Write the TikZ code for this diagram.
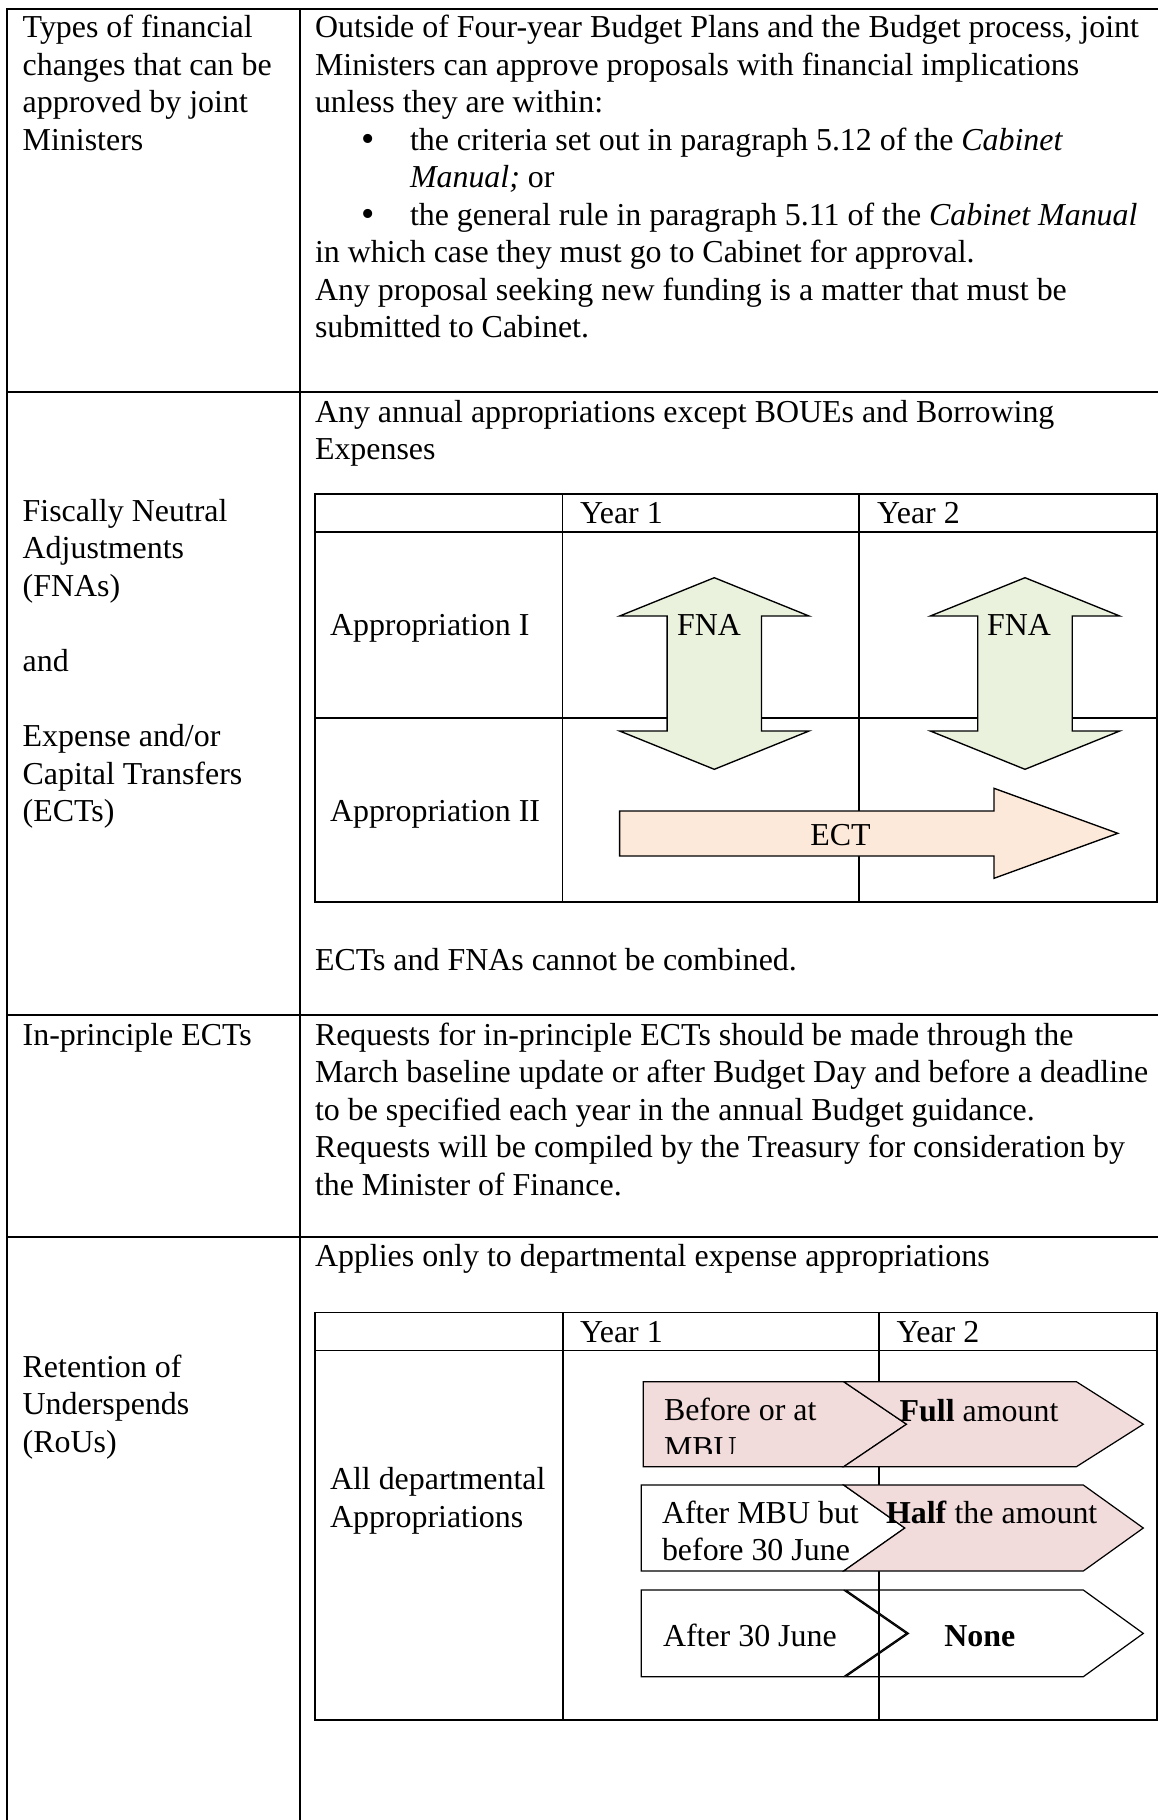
\documentclass[tikz,border=0pt]{standalone}
\usepackage{fontspec}
\setmainfont{Liberation Serif}
\definecolor{fnagreen}{RGB}{234,241,221}
\definecolor{ectpeach}{RGB}{253,233,217}
\definecolor{roupink}{RGB}{242,220,219}
\tikzset{
  tx/.style={anchor=base west, inner sep=0pt, outer sep=0pt, font=\fontsize{11.78}{13.6}\selectfont},
  gridline/.style={line width=0.75pt, black},
  innerline/.style={line width=0.7pt, black},
  arrowshape/.style={line width=0.5pt, black, line join=miter},
  chevshape/.style={line width=0.45pt, black, line join=miter}
}
\newcommand{\tline}[4]{\node[tx] (#1) at (#2,#3) {#4};}
\begin{document}
\begin{tikzpicture}[x=0.369pt, y=-0.369pt]
\useasboundingbox (0,0) rectangle (1158,1820);
\fill[white] (0,0) rectangle (1158,1820);

% outer table
\draw[gridline] (7.3,1830) -- (7.3,9) -- (1170,9);
\draw[gridline] (300,9) -- (300,1830);
\draw[gridline] (7.3,392) -- (1170,392);
\draw[gridline] (7.3,1015) -- (1170,1015);
\draw[gridline] (7.3,1236.5) -- (1170,1236.5);

% inner table 1 (FNA / ECT)
\draw[innerline] (315,494) rectangle (1157,902);
\draw[innerline] (315,532) -- (1157,532);
\draw[innerline] (315,718) -- (1157,718);
\draw[innerline] (562.5,494) -- (562.5,902);
\draw[innerline] (859,494) -- (859,902);

% FNA arrows
\foreach \cx in {714.3, 1025}{
  \draw[arrowshape, fill=fnagreen] (\cx,577.7) -- (\cx+94.7,616) -- (\cx+47.2,616) -- (\cx+47.2,731)
    -- (\cx+94.7,731) -- (\cx,769.3) -- (\cx-94.7,731) -- (\cx-47.2,731) -- (\cx-47.2,616)
    -- (\cx-94.7,616) -- cycle;
}
% ECT arrow
\draw[arrowshape, fill=ectpeach] (619.6,811) -- (994,811) -- (994,788.3) -- (1117.8,833.3)
  -- (994,878.3) -- (994,856) -- (619.6,856) -- cycle;

% inner table 2 (RoU)
\draw[innerline] (315,1312.5) rectangle (1157,1720);
\draw[innerline] (315,1350.5) -- (1157,1350.5);
\draw[innerline] (562.7,1312.5) -- (562.7,1720);
\draw[innerline] (879,1312.5) -- (879,1720);

% chevrons row A
\draw[chevshape, fill=roupink] (643.3,1381.7) -- (843.7,1381.7) -- (906.5,1424.2) -- (843.7,1466.7) -- (643.3,1466.7) -- cycle;
\draw[chevshape, fill=roupink] (843.7,1381.7) -- (1076.4,1381.7) -- (1143.3,1424.2) -- (1076.4,1466.7) -- (843.7,1466.7) -- (906.5,1424.2) -- cycle;
% chevrons row B
\draw[chevshape, fill=white] (641.3,1485) -- (843.7,1485) -- (904.8,1528) -- (843.7,1571) -- (641.3,1571) -- cycle;
\draw[chevshape, fill=roupink] (843.7,1485) -- (1083.3,1485) -- (1143.3,1528) -- (1083.3,1571) -- (843.7,1571) -- (904.8,1528) -- cycle;
% chevrons row C
\draw[chevshape] (641.3,1590) -- (843.7,1590) -- (906.5,1633.4) -- (843.7,1676.7) -- (641.3,1676.7) -- cycle;
\draw[chevshape] (845.7,1590) -- (1083.3,1590) -- (1143.3,1633.4) -- (1083.3,1676.7) -- (845.7,1676.7) -- (908.5,1633.4) -- cycle;

% ---- texts, row 1
\tline{la1}{22.7}{37.5}{Types of financial}
\tline{la2}{22.7}{75}{changes that can be}
\tline{la3}{22.7}{112.5}{approved by joint}
\tline{la4}{22.7}{150}{Ministers}
\tline{ra1}{315}{37.5}{Outside of Four-year Budget Plans and the Budget process, joint}
\tline{ra2}{315}{75}{Ministers can approve proposals with financial implications}
\tline{ra3}{315}{112.5}{unless they are within:}
\node[tx, font=\fontsize{14}{14}\selectfont] (rb1) at (361,151) {•};
\tline{ra4}{410}{150}{the criteria set out in paragraph 5.12 of the \textit{Cabinet}}
\tline{ra5}{410}{187.5}{\textit{Manual;} or}
\node[tx, font=\fontsize{14}{14}\selectfont] (rb2) at (361,226) {•};
\tline{ra6}{410}{225}{the general rule in paragraph 5.11 of the \textit{Cabinet Manual}}
\tline{ra7}{315}{262.5}{in which case they must go to Cabinet for approval.}
\tline{ra8}{315}{300}{Any proposal seeking new funding is a matter that must be}
\tline{ra9}{315}{337.5}{submitted to Cabinet.}

% ---- row 2
\tline{lb1}{22.7}{521}{Fiscally Neutral}
\tline{lb2}{22.7}{558.6}{Adjustments}
\tline{lb3}{22.7}{596.2}{(FNAs)}
\tline{lb4}{22.7}{671.4}{and}
\tline{lb5}{22.7}{746.6}{Expense and/or}
\tline{lb6}{22.7}{784.2}{Capital Transfers}
\tline{lb7}{22.7}{821.8}{(ECTs)}
\tline{rc1}{315}{422}{Any annual appropriations except BOUEs and Borrowing}
\tline{rc2}{315}{459.5}{Expenses}
\tline{ty1}{580}{523}{Year 1}
\tline{ty2}{877}{523}{Year 2}
\tline{tap1}{330}{635}{Appropriation I}
\tline{tap2}{330}{821}{Appropriation II}
\node[tx, anchor=base] (fnaAt) at (709,635.5) {FNA};
\node[tx, anchor=base] (fnaBt) at (1019,635.5) {FNA};
\node[tx, anchor=base] (ectt) at (840.5,845) {ECT};
\tline{rc3}{315}{970}{ECTs and FNAs cannot be combined.}

% ---- row 3
\tline{lc1}{22.7}{1045}{In-principle ECTs}
\tline{rd1}{315}{1045}{Requests for in-principle ECTs should be made through the}
\tline{rd2}{315}{1082.5}{March baseline update or after Budget Day and before a deadline}
\tline{rd3}{315}{1120}{to be specified each year in the annual Budget guidance.}
\tline{rd4}{315}{1157.5}{Requests will be compiled by the Treasury for consideration by}
\tline{rd5}{315}{1195}{the Minister of Finance.}

% ---- row 4
\tline{ld1}{22.7}{1377}{Retention of}
\tline{ld2}{22.7}{1414.5}{Underspends}
\tline{ld3}{22.7}{1452}{(RoUs)}
\tline{re1}{315}{1266.5}{Applies only to departmental expense appropriations}
\tline{tyb1}{580}{1342}{Year 1}
\tline{tyb2}{896.5}{1342}{Year 2}
\tline{tad1}{330}{1489.5}{All departmental}
\tline{tad2}{330}{1527}{Appropriations}
\tline{cha1}{664}{1420.5}{Before or at}
\begin{scope}
  \clip (640,1430) rectangle (840,1453.5);
  \tline{cha2}{664}{1458}{MBU}
\end{scope}
\tline{chb1}{899.7}{1421.5}{\textbf{Full} amount}
\tline{chc1}{662}{1523}{After MBU but}
\tline{chc2}{662}{1560}{before 30 June}
\tline{chd1}{886}{1523}{\textbf{Half} the amount}
\tline{che1}{663}{1646.5}{After 30 June}
\tline{chf1}{944.3}{1646.5}{\textbf{None}}
\end{tikzpicture}
\end{document}
